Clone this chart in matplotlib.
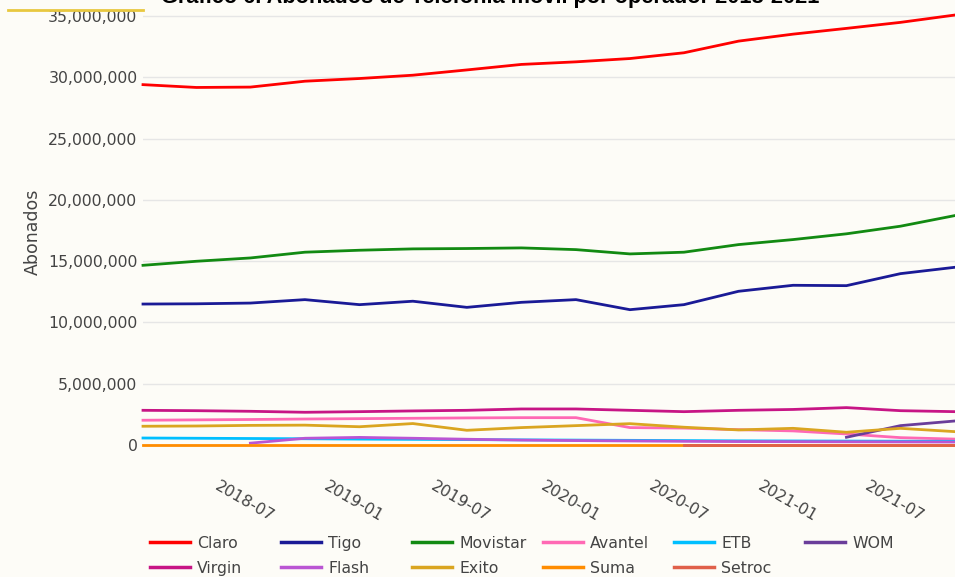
import matplotlib
matplotlib.use("Agg")
import matplotlib.pyplot as plt
import matplotlib.ticker as mticker
import matplotlib.transforms as mtransforms
import numpy as np
import pandas as pd

# ---- data (millions of subscribers, quarterly 2018-Q1 .. 2021-Q4) ----
dates = pd.date_range("2018-01-01", periods=16, freq="QS")
nan = np.nan
claro = [29.40, 29.17, 29.20, 29.68, 29.90, 30.17, 30.60, 31.05, 31.26, 31.53, 32.00, 32.95, 33.52, 33.99, 34.48, 35.08]
tigo = [11.50, 11.52, 11.58, 11.86, 11.45, 11.73, 11.23, 11.64, 11.86, 11.04, 11.45, 12.54, 13.03, 13.00, 13.98, 14.50]
movistar = [14.66, 14.99, 15.26, 15.73, 15.89, 16.00, 16.03, 16.08, 15.94, 15.59, 15.73, 16.35, 16.76, 17.23, 17.85, 18.72]
avantel = [2.02, 2.05, 2.08, 2.12, 2.15, 2.18, 2.21, 2.23, 2.23, 1.42, 1.38, 1.25, 1.15, 0.90, 0.60, 0.48]
etb = [0.57, 0.55, 0.53, 0.51, 0.48, 0.46, 0.44, 0.42, 0.40, 0.38, 0.36, 0.34, 0.33, 0.32, 0.31, 0.30]
wom = [nan, nan, nan, nan, nan, nan, nan, nan, nan, nan, nan, nan, nan, 0.63, 1.58, 1.96]
virgin = [2.83, 2.80, 2.75, 2.67, 2.72, 2.78, 2.83, 2.94, 2.94, 2.83, 2.72, 2.83, 2.90, 3.05, 2.80, 2.72]
flash = [nan, nan, 0.15, 0.55, 0.62, 0.55, 0.47, 0.40, 0.36, 0.33, 0.30, 0.28, 0.27, 0.26, 0.25, 0.24]
exito = [1.53, 1.55, 1.60, 1.62, 1.49, 1.75, 1.20, 1.42, 1.58, 1.74, 1.45, 1.23, 1.36, 1.04, 1.36, 1.09]
suma = [0.03, 0.03, 0.03, 0.03, 0.03, 0.03, 0.03, 0.03, 0.03, 0.03, 0.03, 0.03, 0.03, 0.03, 0.03, 0.03]
setroc = [nan, nan, nan, nan, nan, nan, nan, nan, nan, nan, 0.01, 0.01, 0.01, 0.01, 0.01, 0.01]

names = ["Claro", "Tigo", "Movistar", "Avantel", "ETB", "WOM",
         "Virgin", "Flash", "Exito", "Suma", "Setroc"]
series = [claro, tigo, movistar, avantel, etb, wom, virgin, flash, exito, suma, setroc]
colors = ["#ff0000", "#1a1a96", "#128a12", "#ff69b4", "#00bfff", "#6a3d9a",
          "#c71585", "#ba55d3", "#daa520", "#ff8c00", "#e0604a"]

title = "Gráfico 6. Abonados de Telefonía móvil por operador 2018-2021"
ylabel = "Abonados"

W, H = 955, 577
bg = "#fdfcf7"
txt = "#444444"
fig = plt.figure(figsize=(W / 100, H / 100), dpi=100, facecolor=bg)

# axes spans pixels x 143..955, y 10..455 (top-down)
px_left, px_right, px_top, px_bot = 143, 955, 10, 455
ax = fig.add_axes([px_left / W, 1 - px_bot / H, (px_right - px_left) / W, (px_bot - px_top) / H])
ax.set_facecolor(bg)

scale = 1e6
for name, vals, c in zip(names, series, colors):
    ax.plot(dates, np.array(vals) * scale, color=c, lw=2.0, label=name,
            solid_joinstyle="round", clip_on=False)

# y range: 0 at px 445, 35M at px 16
ppm = (445 - 16) / 35.0
ax.set_ylim((445 - px_bot) / ppm * scale, (445 - px_top) / ppm * scale)
ax.set_xlim(dates[0], dates[-1])

ax.set_yticks(np.arange(0, 35e6 + 1, 5e6))
ax.yaxis.set_major_formatter(mticker.FuncFormatter(lambda v, p: f"{int(round(v)):,}"))
ax.grid(axis="y", color="#e6e6e6", lw=1)
ax.set_axisbelow(True)

xt = pd.to_datetime(["2018-07-01", "2019-01-01", "2019-07-01", "2020-01-01",
                     "2020-07-01", "2021-01-01", "2021-07-01"])
ax.set_xticks(xt)
ax.set_xticklabels([d.strftime("%Y-%m") for d in xt], rotation=-30, ha="center", va="top")

for s in ax.spines.values():
    s.set_visible(False)
ax.tick_params(axis="both", length=0, labelsize=11.3, colors=txt)
ax.tick_params(axis="x", pad=17)
ax.tick_params(axis="y", pad=4)
shift = mtransforms.ScaledTranslation(-6 / 100, 0, fig.dpi_scale_trans)
for lbl in ax.get_xticklabels():
    lbl.set_transform(lbl.get_transform() + shift)

fig.text(33 / W, 1 - 232 / H, ylabel, rotation=90, ha="center", va="center",
         fontsize=12.5, color=txt)

fig.text(490 / W, 1 - 3 / H, title, ha="center", va="baseline",
         fontsize=15.7, fontweight="bold", family="Liberation Sans", color="#000000")

# small yellow line at top-left
fig.add_artist(plt.Line2D([8 / W, 143 / W], [1 - 10 / H, 1 - 10 / H], color="#e8c840", lw=2))

# legend: 2 rows x 6 columns, row-major order
col_x = [150, 281, 412, 543, 674, 805]
row_y = [542, 567]
for k, (name, c) in enumerate(zip(names, colors)):
    r, cidx = divmod(k, 6)
    x0, y0 = col_x[cidx], row_y[r]
    fig.add_artist(plt.Line2D([x0 / W, (x0 + 40) / W], [1 - y0 / H, 1 - y0 / H],
                              color=c, lw=2.5))
    fig.text((x0 + 47) / W, 1 - y0 / H, name, ha="left", va="center_baseline",
             fontsize=11.3, color=txt)

fig.savefig("out.png", dpi=100, facecolor=bg)
